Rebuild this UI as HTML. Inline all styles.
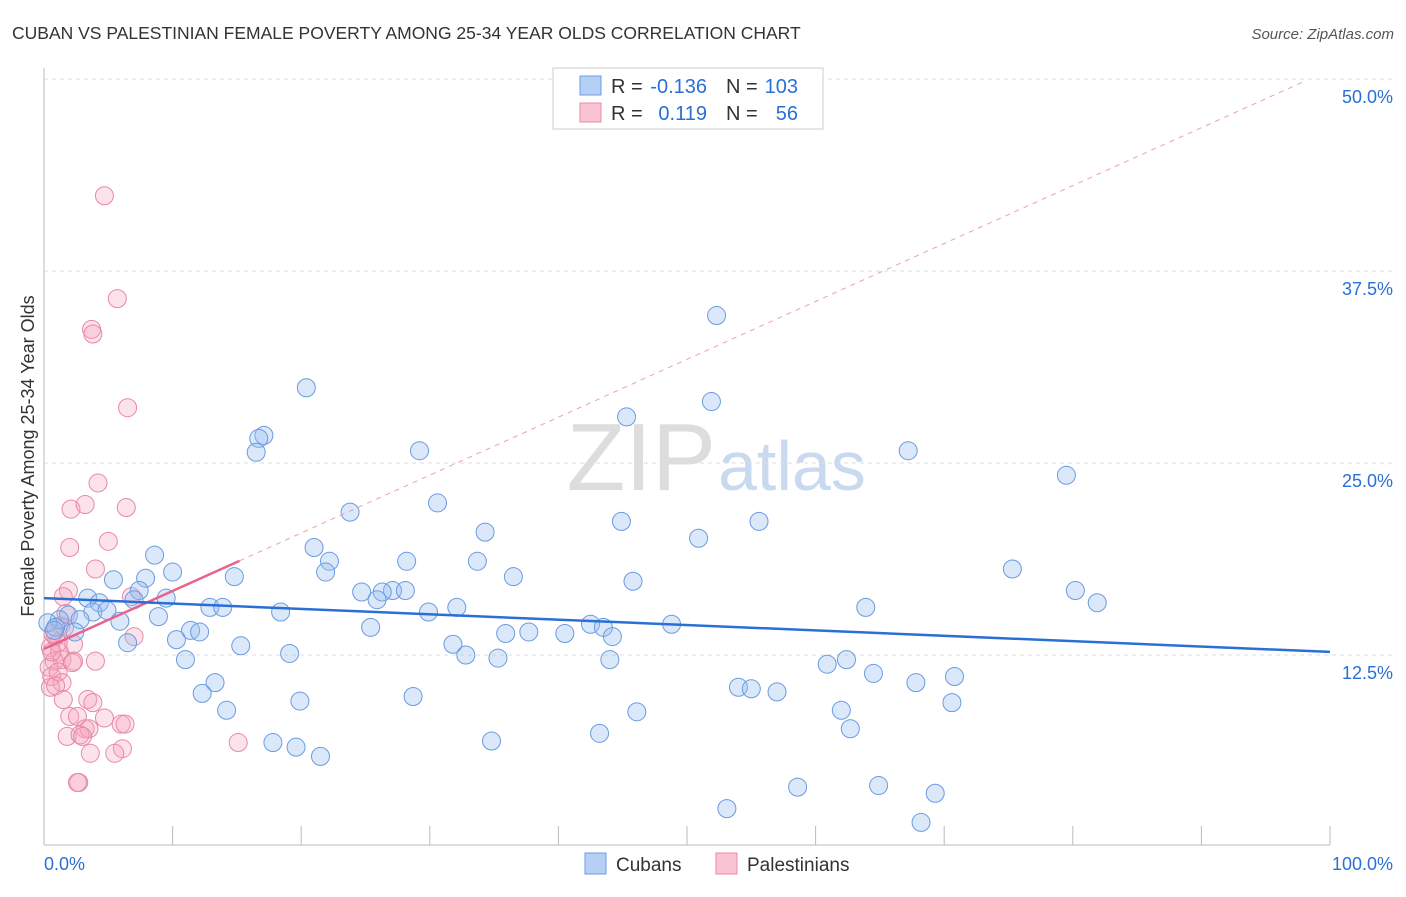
<!DOCTYPE html>
<html><head><meta charset="utf-8"><style>
body{margin:0;background:#fff;font-family:"Liberation Sans",sans-serif;}
svg text{font-family:"Liberation Sans",sans-serif;}
</style></head><body>
<svg id="c" width="1406" height="892">
<text x="12" y="39" font-size="17.5" fill="#333">CUBAN VS PALESTINIAN FEMALE POVERTY AMONG 25-34 YEAR OLDS CORRELATION CHART</text>
<text x="1394" y="39" font-size="15" fill="#555" font-style="italic" text-anchor="end">Source: ZipAtlas.com</text>
<text x="716" y="490" font-size="96" fill="#ddd" font-family="Liberation Serif" text-anchor="end">ZIP</text>
<text x="718" y="490" font-size="70" fill="#c9daf0">atlas</text>
<text transform="translate(34,456) rotate(-90)" font-size="18" fill="#333" text-anchor="middle">Female Poverty Among 25-34 Year Olds</text>
<g id="grid"></g><g id="marks"></g>
<g>
<rect x="553" y="68" width="270" height="61" fill="#fff" stroke="#ccc"/>
<rect x="580" y="76" width="21" height="19" fill="#b5d0f5" stroke="#6a9be0"/>
<rect x="580" y="103" width="21" height="19" fill="#f9c3d2" stroke="#e889a5"/>
<text x="611" y="93" font-size="20" fill="#333">R =</text>
<text x="707" y="93" font-size="20" fill="#2a6fd6" text-anchor="end">-0.136</text>
<text x="726" y="93" font-size="20" fill="#333">N =</text>
<text x="798" y="93" font-size="20" fill="#2a6fd6" text-anchor="end">103</text>
<text x="611" y="120" font-size="20" fill="#333">R =</text>
<text x="707" y="120" font-size="20" fill="#2a6fd6" text-anchor="end">0.119</text>
<text x="726" y="120" font-size="20" fill="#333">N =</text>
<text x="798" y="120" font-size="20" fill="#2a6fd6" text-anchor="end">56</text>
</g>
<g>
<rect x="585" y="853" width="21" height="21" fill="#b5d0f5" stroke="#6a9be0"/>
<text x="616" y="871" font-size="19" fill="#333">Cubans</text>
<rect x="716" y="853" width="21" height="21" fill="#f9c3d2" stroke="#e889a5"/>
<text x="747" y="871" font-size="19" fill="#333">Palestinians</text>
</g>
</svg>
<script>
const yTicks=[12.5,25,37.5,50];
const yTickLabels=["12.5%","25.0%","37.5%","50.0%"];
const xLabels=["0.0%","100.0%"];
const cubanPx=[[716,316],[306,387],[711,402],[626,417],[264,435],[259,438],[256,453],[419,451],[908,451],[1066,476],[438,503],[350,512],[621,521],[759,522],[485,532],[699,538],[314,547],[154,555],[407,561],[478,562],[330,562],[1012,569],[172,572],[234,576],[146,578],[514,577],[113,580],[633,582],[325,572],[361,592],[392,591],[405,591],[382,592],[1075,591],[377,600],[1097,603],[139,591],[166,598],[88,598],[99,603],[134,600],[210,607],[223,607],[280,612],[429,612],[457,608],[866,608],[93,612],[107,610],[69,615],[80,619],[60,619],[120,621],[159,616],[590,625],[603,627],[671,625],[48,623],[55,628],[54,630],[75,632],[371,628],[613,636],[506,634],[529,632],[565,633],[190,630],[199,632],[176,639],[127,643],[241,646],[453,644],[290,653],[466,655],[498,658],[610,660],[847,660],[827,664],[185,660],[873,673],[955,676],[916,683],[215,683],[738,687],[751,689],[777,692],[202,694],[413,697],[300,701],[952,703],[227,711],[637,712],[841,711],[850,728],[273,742],[296,747],[321,757],[491,741],[599,734],[797,787],[878,786],[935,793],[727,809],[921,823]];
const palPx=[[105,196],[117,298],[91,330],[93,334],[127,407],[98,483],[71,509],[85,504],[126,507],[70,548],[108,541],[95,569],[69,590],[63,596],[132,596],[134,637],[61,626],[73,645],[55,637],[50,647],[60,652],[54,661],[62,660],[74,661],[95,661],[49,668],[52,676],[58,672],[62,682],[50,687],[56,685],[63,700],[88,700],[93,702],[70,716],[77,716],[104,718],[121,724],[125,724],[85,728],[89,729],[67,737],[80,735],[82,737],[122,748],[115,753],[90,754],[238,743],[79,783],[77,783],[58,642],[52,652],[66,614],[72,662],[64,628],[53,633]];
const cubanX=cubanPx.map(p=>+((p[0]-44)/12.86).toFixed(1));
const cubanY=cubanPx.map(p=>+((847-p[1])/15.36).toFixed(1));
const palX=palPx.map(p=>+((p[0]-44)/12.86).toFixed(1));
const palY=palPx.map(p=>+((847-p[1])/15.36).toFixed(1));
const cubanTrend=[16.2,12.7];
const palTrend=[12.9,50.6];
const palSolidEnd=15.2;
const palDashEnd=98;
const X=v=>44+v*12.86, Y=v=>847-v*15.36;
const NS="http://www.w3.org/2000/svg";
function mk(tag,attrs,parent){const e=document.createElementNS(NS,tag);for(const k in attrs)e.setAttribute(k,attrs[k]);parent.appendChild(e);return e;}
const g=document.getElementById('grid'), m=document.getElementById('marks');
yTicks.forEach((t,i)=>{
 const l=mk('line',{x1:44,x2:1394,y1:Y(t),y2:Y(t),stroke:'#ddd','stroke-dasharray':'4,4'},g);
 
 
 const tx=mk('text',{x:1393,y:Y(t)+24,'font-size':18,fill:'#2a6fd6','text-anchor':'end'},g);
 tx.textContent=yTickLabels[i];
 
 
});
const ax=mk('line',{x1:44,x2:1330,y1:845,y2:845,stroke:'#bbb'},g);


const ay=mk('line',{x1:44,x2:44,y1:68,y2:845,stroke:'#bbb'},g);


for(let i=0;i<=10;i++){const t=mk('line',{x1:X(i*10),x2:X(i*10),y1:826,y2:845,stroke:'#bbb'},g);
 
 }
[[0,'start',44],[100,'end',1393]].forEach((a,i)=>{const t=mk('text',{x:a[2],y:870,'font-size':18,fill:'#2a6fd6','text-anchor':a[1]},g);t.textContent=xLabels[i];
 
 });
palX.forEach((x,i)=>{const c=mk('circle',{cx:X(x),cy:Y(palY[i]),r:9,fill:'rgba(245,165,190,0.32)',stroke:'#e889a5','stroke-width':1},m);
 
 });
cubanX.forEach((x,i)=>{const c=mk('circle',{cx:X(x),cy:Y(cubanY[i]),r:9,fill:'rgba(150,190,240,0.35)',stroke:'#6a9be0','stroke-width':1},m);
 
 });
const pf=x=>palTrend[0]+(palTrend[1]-palTrend[0])*x/100;
const pd=mk('line',{x1:X(palSolidEnd),y1:Y(pf(palSolidEnd)),x2:X(palDashEnd),y2:Y(pf(palDashEnd)),stroke:'#eaa0b5','stroke-dasharray':'5,5','stroke-width':1},m);


const ps=mk('line',{x1:X(0),y1:Y(pf(0)),x2:X(palSolidEnd),y2:Y(pf(palSolidEnd)),stroke:'#e8648c','stroke-width':2.5},m);


const cl=mk('line',{x1:X(0),y1:Y(cubanTrend[0]),x2:X(100),y2:Y(cubanTrend[1]),stroke:'#2a6fd6','stroke-width':2.5},m);


</script>
</body></html>
